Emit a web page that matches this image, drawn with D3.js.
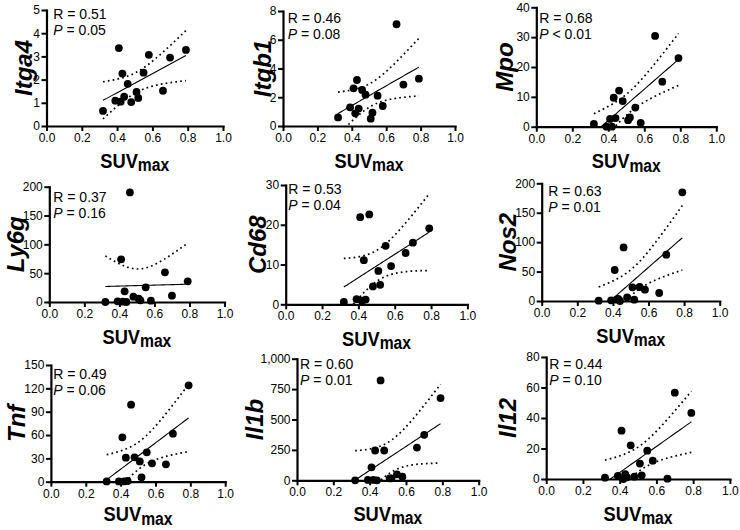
<!DOCTYPE html>
<html><head><meta charset="utf-8">
<script src="https://cdn.jsdelivr.net/npm/d3@7"></script>
<style>
body{margin:0;background:#fff}
svg{display:block}
text{font-family:"Liberation Sans",Arial,sans-serif;fill:#000}
</style>
</head><body><svg id="c" width="740" height="530"></svg>
<script>
// ---- data ----
const suvMax = [0.32,0.39,0.41,0.42,0.43,0.44,0.46,0.48,0.51,0.52,0.55,0.58,0.66,0.70,0.79];
const genes = ["Itga4","Itgb1","Mpo","Ly6g","Cd68","Nos2","Tnf","Il1b","Il12"];
const itga4 = [0.65,1.09,3.36,1.05,2.26,1.26,1.82,1.03,1.47,1.21,2.30,3.07,1.52,2.95,3.28];
const itgb1 = [0.60,1.30,2.62,0.88,3.20,1.21,2.51,2.18,0.51,0.93,2.11,1.39,7.08,2.88,3.29];
const mpo   = [0.9,0,2.6,0,9.7,2.9,12.1,8.6,2.2,3.1,6.4,1.3,30.4,15.1,23.0];
const ly6g  = [0,1.2,74,0.6,18.5,0,190,9.2,5.8,2.9,25.4,2.3,51.4,11,35.8];
const cd68  = [0.6,1.3,21.9,0.9,11.1,1.2,22.6,4.5,8.4,4.9,14.7,9.6,12.9,15.5,19.1];
const nos2  = [0.6,1.1,52.7,2.3,3.4,0,91,6.2,23.2,2.3,23.8,19.3,13.6,78.8,184.7];
const tnf   = [0.4,0.4,57,0.4,30.9,0.9,99,31.3,26.1,5.6,37.7,23.6,22.3,61.7,123.9];
const il1b  = [0,3,107,3,245,0,821,245,16,16,49,30,269,374,676];
const il12  = [0.9,2.0,31.7,0,3.1,1.1,22.1,1.5,10.1,2.4,18.6,12.0,0.2,56.6,43.3];
const seriesValues = [itga4,itgb1,mpo,ly6g,cd68,nos2,tnf,il1b,il12];
const yMax = [5,8,40,200,30,200,150,1000,80];
const yTickStep = [1,2,10,50,10,50,30,250,20];
const rText = ["0.51","0.46","0.68","0.37","0.53","0.63","0.49","0.60","0.44"];
const pText = ["= 0.05","= 0.08","< 0.01","= 0.16","= 0.04","= 0.01","= 0.06","= 0.01","= 0.10"];
const xTicks = [0,0.2,0.4,0.6,0.8,1.0];
const xTitleMain = "SUV", xTitleSub = "max";

// ---- layout (pixel positions per panel) ----
const layout = [
 {x0:46.5, x1:223,   y0:126,   yT:10,    lx:32,  tx:6.8, ty:19,    xo:41.5},
 {x0:283,  x1:455,   y0:126,   yT:11,    lx:271, tx:4.8, ty:22.7,  xo:41.5},
 {x0:536.3,x1:716.3, y0:126.7, yT:7.3,   lx:513, tx:3,   ty:23.3,  xo:41.5},
 {x0:49.3, x1:224.5, y0:302,   yT:186.7, lx:24,  tx:4,   ty:201.7, xo:41.5},
 {x0:285.7,x1:467.4, y0:304.3, yT:185,   lx:266, tx:2.6, ty:194,   xo:41.5},
 {x0:541.7,x1:719.7, y0:301,   yT:183.3, lx:516, tx:6.6, ty:196,   xo:41.5},
 {x0:50.9, x1:225.2, y0:481.7, yT:365,   lx:25,  tx:2.4, ty:379,   xo:39.5},
 {x0:297,  x1:478.7, y0:480.3, yT:358.7, lx:263, tx:3,   ty:369,   xo:40.5},
 {x0:546.2,x1:729.9, y0:479,   yT:357,   lx:516, tx:3,   ty:369,   xo:41.5}
];

const svg = d3.select("#c");
const tCrit = 2.1604; // t(0.975, df=13)

genes.forEach((g, i) => {
  const L = layout[i];
  const ys = seriesValues[i];
  const x = d3.scaleLinear().domain([0, 1]).range([L.x0, L.x1]);
  const y = d3.scaleLinear().domain([0, yMax[i]]).range([L.y0, L.yT]);
  const G = svg.append("g");

  // regression + 95% CI
  const n = suvMax.length;
  const mx = d3.mean(suvMax), my = d3.mean(ys);
  let sxx = 0, sxy = 0;
  suvMax.forEach((v, k) => { sxx += (v - mx) ** 2; sxy += (v - mx) * (ys[k] - my); });
  const b = sxy / sxx, a = my - b * mx;
  let sse = 0;
  suvMax.forEach((v, k) => { sse += (ys[k] - (a + b * v)) ** 2; });
  const s = Math.sqrt(sse / (n - 2));
  const xmin = d3.min(suvMax), xmax = d3.max(suvMax);
  const grid = d3.range(0, 61).map(k => xmin + (xmax - xmin) * k / 60);
  const band = grid.map(v => {
    const yh = a + b * v;
    const se = s * Math.sqrt(1 / n + (v - mx) ** 2 / sxx);
    return {x: v, fit: yh, lo: yh - tCrit * se, hi: yh + tCrit * se};
  });

  const clipId = "clip" + i;
  svg.append("clipPath").attr("id", clipId).append("rect")
    .attr("x", L.x0).attr("y", L.yT - 5).attr("width", L.x1 - L.x0).attr("height", L.y0 - L.yT + 5);
  const C = G.append("g").attr("clip-path", `url(#${clipId})`);
  const lineOf = key => d3.line().x(d => x(d.x)).y(d => y(d[key]));
  ["lo", "hi"].forEach(key => {
    C.append("path").datum(band).attr("d", lineOf(key))
      .attr("fill", "none").attr("stroke", "#000").attr("stroke-width", 1.7)
      .attr("stroke-dasharray", "1.7,3.2");
  });
  C.append("path").datum(band).attr("d", lineOf("fit"))
    .attr("fill", "none").attr("stroke", "#000").attr("stroke-width", 1.1);

  // axes
  const yAxis = d3.axisLeft(y)
    .tickValues(d3.range(0, yMax[i] + yTickStep[i] / 2, yTickStep[i]))
    .tickSize(5).tickSizeOuter(0).tickPadding(1.5)
    .tickFormat(yMax[i] >= 1000 ? d3.format(",") : d3.format("d"));
  const xAxis = d3.axisBottom(x).tickValues(xTicks)
    .tickSize(5).tickSizeOuter(0).tickPadding(2.5).tickFormat(d3.format(".1f"));
  const ga = G.append("g").attr("transform", `translate(${L.x0},0)`).call(yAxis);
  const gb = G.append("g").attr("transform", `translate(0,${L.y0})`).call(xAxis);
  [ga, gb].forEach(ax => {
    ax.select(".domain").attr("stroke", "#000").attr("stroke-width", 2.2).attr("stroke-linecap", "square");
    ax.selectAll(".tick line").attr("stroke", "#000").attr("stroke-width", 2);
    ax.selectAll(".tick text").attr("font-size", 12).attr("fill", "#000")
      .attr("font-family", '"Liberation Sans",Arial,sans-serif');
  });

  // points
  G.append("g").selectAll("circle").data(suvMax).join("circle")
    .attr("cx", (d) => x(d)).attr("cy", (d, k) => y(ys[k])).attr("r", 3.9).attr("fill", "#000");

  // stats text
  G.append("text").attr("x", L.x0 + L.tx).attr("y", L.ty).attr("font-size", 14)
    .text("R = " + rText[i]);
  const pt = G.append("text").attr("x", L.x0 + L.tx).attr("y", L.ty + 16).attr("font-size", 14);
  pt.append("tspan").attr("font-style", "italic").text("P");
  pt.append("tspan").text(" " + pText[i]);

  // y title
  G.append("text")
    .attr("transform", `translate(${L.lx},${(L.y0 + L.yT) / 2}) rotate(-90)`)
    .attr("text-anchor", "middle").attr("font-size", 24)
    .attr("font-weight", "bold").attr("font-style", "italic").text(g);

  // x title
  const xt = G.append("text")
    .attr("transform", `translate(${(L.x0 + L.x1) / 2},${L.y0 + L.xo}) scale(0.87,1)`)
    .attr("text-anchor", "middle").attr("font-size", 21).attr("font-weight", "bold");
  xt.append("tspan").text(xTitleMain);
  xt.append("tspan").attr("font-size", 18).attr("dy", 3.5).text(xTitleSub);
});
</script>
</body></html>
